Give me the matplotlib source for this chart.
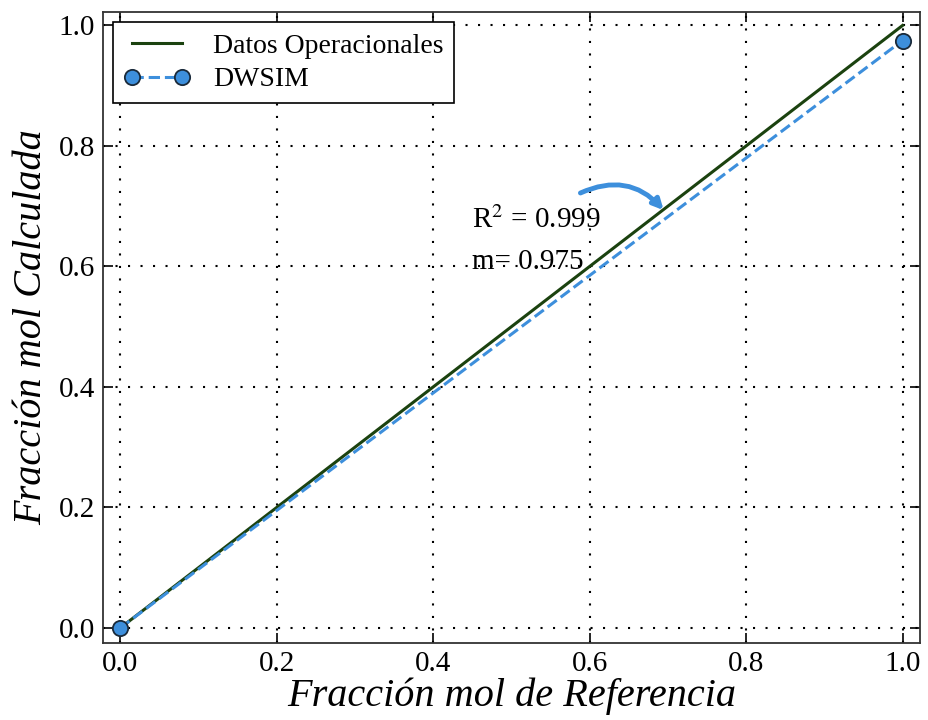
import numpy as np
import matplotlib.pyplot as plt

#----------------------------------------------------------------------
#   Data: reference vs calculated mole fractions
#----------------------------------------------------------------------
x_ref = [0.0, 1.0]
y_oper = [0.0, 1.0]        # Datos Operacionales (paridad)
y_dwsim = [0.0, 0.975]     # DWSIM
r2 = 0.999
slope = 0.975

plt.rcParams['font.family'] = ['Liberation Serif', 'DejaVu Serif']
plt.rcParams['mathtext.fontset'] = 'stix'

fig = plt.figure(figsize=(9.29, 7.2), dpi=100)
ax = fig.add_axes([0.111, 0.107, 0.879, 0.876])

ax.plot(x_ref, y_oper, '-', color='#1b420f', lw=2.2, label='Datos Operacionales', zorder=3)
ax.plot(x_ref, y_dwsim, '--', color='#3d8fdc', lw=2.2, marker='o', markersize=11,
        markerfacecolor='#3d8fdc', markeredgecolor='#1a2a3a', markeredgewidth=1.3,
        label='DWSIM', zorder=4)

ax.set_xlim(-0.022, 1.022)
ax.set_ylim(-0.025, 1.022)
ax.set_xticks(np.arange(0, 1.01, 0.2))
ax.set_yticks(np.arange(0, 1.01, 0.2))
ax.tick_params(direction='in', length=7, width=1.2, labelsize=21, pad=6,
               top=True, right=True)
ax.grid(True, color='black', linestyle=(0, (1, 5)), linewidth=1.5)
for s in ax.spines.values():
    s.set_linewidth(1.3)
    s.set_color('#333333')

ax.set_xlabel('Fracción mol de Referencia', fontsize=29, style='italic', labelpad=0)
ax.set_ylabel('Fracción mol Calculada', fontsize=29, style='italic', labelpad=6)

leg = ax.legend(loc='upper left', fontsize=20, numpoints=2, fancybox=False,
                framealpha=1, edgecolor='black', borderaxespad=0.35,
                handlelength=2.4, borderpad=0.4, labelspacing=0.3)
leg.get_frame().set_linewidth(1.2)

ax.text(0.45, 0.677, r'R$^2$ = %.3f' % r2, fontsize=21, va='center')
ax.text(0.45, 0.607, 'm= %.3f' % slope, fontsize=21, va='center')
ax.annotate('', xy=(0.697, 0.69), xytext=(0.585, 0.72),
            arrowprops=dict(arrowstyle='-|>,head_length=0.6,head_width=0.3',
                            color='#3d8fdc', lw=3.5,
                            connectionstyle='arc3,rad=-0.38'))

fig.savefig('out.png', dpi=100)
